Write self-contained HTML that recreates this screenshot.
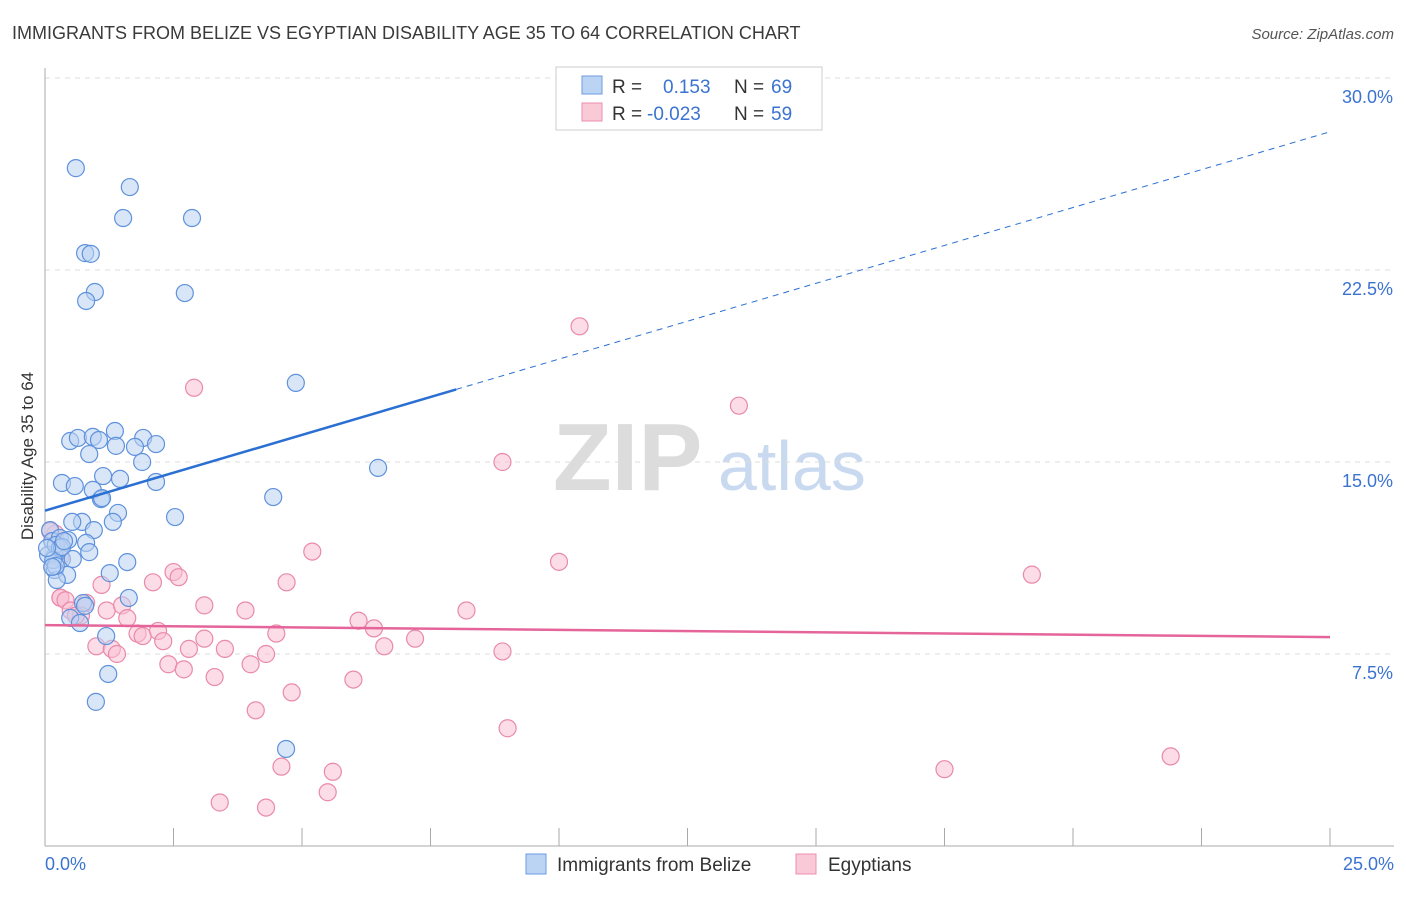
<!DOCTYPE html>
<html><head><meta charset="utf-8"><style>
body{margin:0;background:#fff;font-family:"Liberation Sans",sans-serif}
svg text{font-family:"Liberation Sans",sans-serif}
</style></head><body>
<svg id="chart" width="1406" height="892" viewBox="0 0 1406 892" xmlns="http://www.w3.org/2000/svg">
<text x="12" y="39" font-size="18" fill="#3a3a3a">IMMIGRANTS FROM BELIZE VS EGYPTIAN DISABILITY AGE 35 TO 64 CORRELATION CHART</text>
<text x="1394" y="39" font-size="15" fill="#555" font-style="italic" text-anchor="end">Source: ZipAtlas.com</text>
<g>
<text x="553" y="490" font-size="96" fill="#dcdcdc" font-family="Liberation Serif" font-weight="bold">ZIP</text>
<text x="718" y="490" font-size="70" fill="#c9d9f0">atlas</text>
</g>
<g id="grid"></g>
<g id="axes"></g>
<g id="marks"></g>
<text transform="translate(33,456) rotate(-90)" font-size="17" fill="#333" text-anchor="middle">Disability Age 35 to 64</text>
<g>
<rect x="556" y="67" width="266" height="63" fill="#fff" stroke="#ccc"/>
<rect x="582" y="76" width="20" height="18" fill="#bcd4f4" stroke="#6b9be0"/>
<rect x="582" y="103" width="20" height="18" fill="#f9c9d8" stroke="#ec8fae"/>
<text x="612" y="93" font-size="19" fill="#333">R =</text>
<text x="663" y="93" font-size="19" fill="#3b73d0">0.153</text>
<text x="734" y="93" font-size="19" fill="#333">N =</text>
<text x="771" y="93" font-size="19" fill="#3b73d0">69</text>
<text x="612" y="120" font-size="19" fill="#333">R =</text>
<text x="647" y="120" font-size="19" fill="#3b73d0">-0.023</text>
<text x="734" y="120" font-size="19" fill="#333">N =</text>
<text x="771" y="120" font-size="19" fill="#3b73d0">59</text>
</g>
<g>
<rect x="526" y="854" width="20" height="20" fill="#bcd4f4" stroke="#6b9be0"/>
<text x="557" y="871" font-size="19" fill="#333">Immigrants from Belize</text>
<rect x="796" y="854" width="20" height="20" fill="#f9c9d8" stroke="#ec8fae"/>
<text x="828" y="871" font-size="19" fill="#333">Egyptians</text>
</g>
</svg>
<script>
const xTicks=[0,2.5,5,7.5,10,12.5,15,17.5,20,22.5,25];
const yTicks=[7.5,15,22.5,30];
const yTickLabels=["7.5%","15.0%","22.5%","30.0%"];
const xEndLabels=["0.0%","25.0%"];
const belizeX=[0.60,1.65,1.52,2.86,0.78,0.89,0.97,2.72,0.80,4.88,0.49,0.64,0.93,1.05,1.36,1.91,2.16,1.75,1.38,0.86,1.89,6.48,1.13,0.33,0.58,0.93,1.46,2.16,1.09,1.11,4.44,1.42,2.53,0.72,0.53,0.95,1.32,0.10,0.14,0.29,0.45,0.80,0.86,0.33,0.54,0.19,0.06,1.60,0.19,0.43,1.26,0.23,1.63,0.74,0.78,0.49,0.68,1.19,1.23,0.99,4.69,0.21,0.29,0.16,0.33,0.37,0.21,0.14,0.04];
const belizeY=[26.48,25.74,24.53,24.53,23.16,23.13,21.64,21.60,21.29,18.09,15.82,15.94,15.98,15.86,16.21,15.94,15.70,15.59,15.63,15.31,15.0,14.77,14.45,14.18,14.06,13.91,14.34,14.22,13.55,13.59,13.63,13.01,12.85,12.66,12.66,12.34,12.66,12.34,11.91,12.03,11.95,11.84,11.48,11.21,11.21,11.33,11.37,11.09,10.78,10.59,10.66,10.39,9.69,9.49,9.38,8.91,8.71,8.20,6.72,5.63,3.79,11.76,11.64,11.17,11.68,11.91,10.94,10.90,11.64];
const egyX=[10.4,2.9,13.5,8.9,5.2,10.0,19.2,2.5,2.6,2.1,4.7,0.2,0.1,0.3,0.3,0.3,0.4,1.1,0.8,0.5,1.2,3.1,3.9,8.2,1.5,1.6,6.1,6.4,0.7,0.6,1.0,1.3,1.4,1.8,1.9,2.2,2.3,3.1,2.8,3.5,4.3,4.5,6.6,7.2,8.9,2.4,2.7,3.3,4.0,6.0,4.8,4.1,9.0,4.6,5.6,21.9,17.5,5.5,3.4,4.3];
const egyY=[20.3,17.9,17.2,15.0,11.5,11.1,10.6,10.7,10.5,10.3,10.3,12.2,12.3,11.3,9.7,9.7,9.6,10.2,9.5,9.2,9.2,9.4,9.2,9.2,9.4,8.9,8.8,8.5,9.0,9.0,7.8,7.7,7.5,8.3,8.2,8.4,8.0,8.1,7.7,7.7,7.5,8.3,7.8,8.1,7.6,7.1,6.9,6.6,7.1,6.5,6.0,5.3,4.6,3.1,2.9,3.5,3.0,2.1,1.7,1.5];
const belizeTrend=[13.1,27.9];
const egyTrend=[8.63,8.16];
const NS='http://www.w3.org/2000/svg';
const X0=45,X1=1330,Y0=846,Y30=78;
function sx(v){return X0+(v/25)*(X1-X0);}
function sy(v){return Y0-(v/30)*(Y0-Y30);}
function mk(t,a,p){const e=document.createElementNS(NS,t);for(const k in a)e.setAttribute(k,a[k]);p.appendChild(e);return e;}
const grid=document.getElementById('grid'),axes=document.getElementById('axes'),marks=document.getElementById('marks');
yTicks.forEach((v,i)=>{
 const l=mk('line',{x1:X0,x2:1394,y1:sy(v),y2:sy(v),stroke:'#ddd','stroke-dasharray':'5,5'},grid);
 
 
 const t=mk('text',{x:1393,y:sy(v)+25,'font-size':18,fill:'#3b73d0','text-anchor':'end'},axes);
 t.textContent=yTickLabels[i];
 
 
});
const ax=mk('line',{x1:X0,x2:X0,y1:68,y2:Y0,stroke:'#aaa'},axes);


const bx=mk('line',{x1:X0,x2:1394,y1:Y0,y2:Y0,stroke:'#aaa'},axes);


xTicks.forEach(v=>{
 const l=mk('line',{x1:sx(v),x2:sx(v),y1:Y0,y2:Y0-18,stroke:'#aaa'},axes);
 
 
});
[[0,'start',45],[25,'end',1394]].forEach((o,i)=>{
 const t=mk('text',{x:o[2],y:870,'font-size':18,fill:'#3b73d0','text-anchor':o[1]},axes);
 t.textContent=xEndLabels[i];
 
 
});
function pts(xs,ys,fill,stroke,name){
 xs.forEach((x,i)=>{
  const c=mk('circle',{cx:sx(x),cy:sy(ys[i]),r:8.5,fill:fill,'fill-opacity':0.55,stroke:stroke,'stroke-width':1.2},marks);
  
  
 });
}
pts(egyX,egyY,'#f9c0d2','#e98aaa','egyptians-point');
pts(belizeX,belizeY,'#b9d2f3','#5f92dc','belize-point');
const bs=belizeTrend[0]+(belizeTrend[1]-belizeTrend[0])*(8/25);
const l1=mk('line',{x1:sx(0),y1:sy(belizeTrend[0]),x2:sx(8),y2:sy(bs),stroke:'#2a6fd2','stroke-width':2.5},marks);


const l2=mk('line',{x1:sx(8),y1:sy(bs),x2:sx(25),y2:sy(belizeTrend[1]),stroke:'#2a6fd2','stroke-width':1,'stroke-dasharray':'6,5'},marks);


const l3=mk('line',{x1:sx(0),y1:sy(egyTrend[0]),x2:sx(25),y2:sy(egyTrend[1]),stroke:'#e5659a','stroke-width':2.5},marks);


</script>
</body></html>
